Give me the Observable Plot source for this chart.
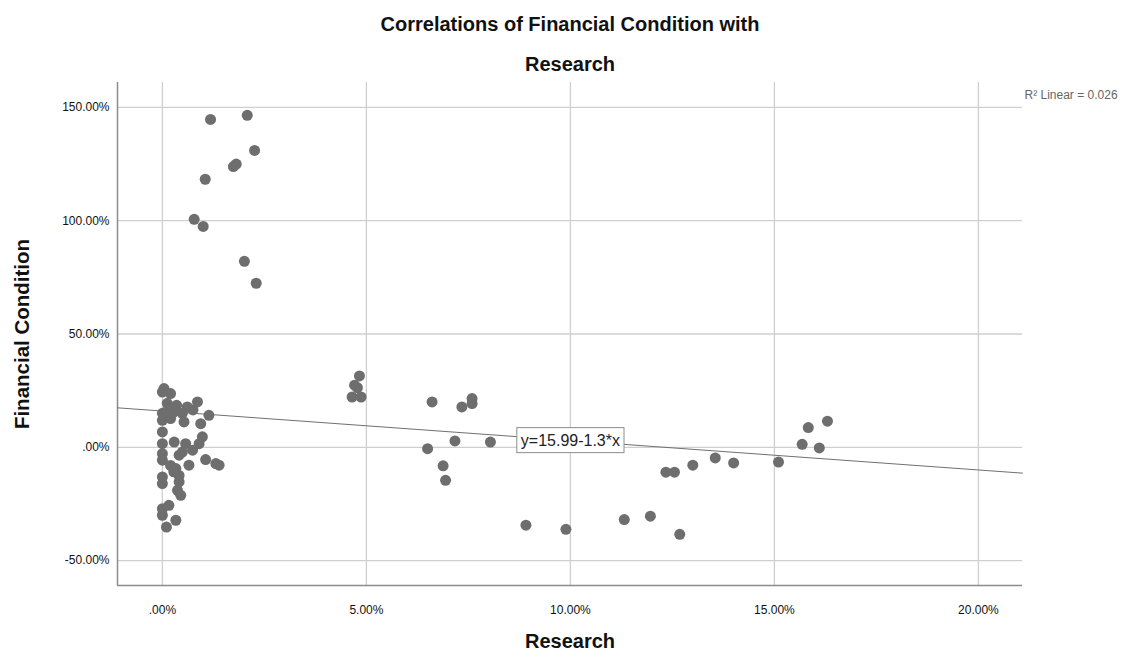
<!DOCTYPE html>
<html>
<head>
<meta charset="utf-8">
<script src="https://cdn.jsdelivr.net/npm/d3@7"></script>
<script src="https://cdn.jsdelivr.net/npm/@observablehq/plot@0.6"></script>
<style>
  body { margin: 0; background: #fff; }
  #chart svg { display: block; font-family: Arial, "Liberation Sans", sans-serif; color: #111; }
</style>
</head>
<body>
<div id="chart"></div>
<script>
// Research spending share (%) and financial condition (%) for each case
const research = [
  1.18, 2.08, 2.26, 1.74, 1.81, 1.05, 0.78, 1.00, 2.01, 2.30,
  4.83, 4.71, 4.78, 4.65, 4.87,
  6.61, 7.34, 7.59, 7.59, 6.50, 7.17, 8.04, 6.88, 6.94,
  8.91, 9.89, 11.32, 11.96, 12.68, 12.34, 12.55, 13.00, 13.55, 14.00,
  15.10, 15.68, 15.83, 16.10, 16.30,
  0.04, 0.20, 0.00, 0.12, 0.61, 0.86, 1.14, 0.49, 0.29, 0.00,
  0.00, 0.20, 0.53, 0.94, 0.00, 0.98, 0.00, 0.29, 0.57, 0.90,
  0.74, 0.49, 0.41, 0.00, 0.00, 0.65, 1.06, 1.39, 1.31, 0.33,
  0.00, 0.41, 0.00, 0.41, 0.37, 0.45, 0.16, 0.00, 0.00, 0.33,
  0.10, 0.35, 0.15, 0.75, 0.20, 0.28
];
const financial = [
  144.7, 146.5, 131.0, 123.9, 125.0, 118.3, 100.6, 97.5, 82.1, 72.4,
  31.5, 27.4, 26.3, 22.2, 22.2,
  20.0, 17.8, 21.5, 19.3, -0.6, 2.8, 2.3, -8.2, -14.6,
  -34.4, -36.2, -31.9, -30.4, -38.4, -11.0, -11.0, -7.9, -4.7, -6.9,
  -6.5, 1.3, 8.7, -0.3, 11.5,
  25.9, 23.7, 24.4, 19.4, 17.8, 20.0, 14.1, 15.0, 15.6, 15.0,
  11.9, 12.7, 11.2, 10.4, 6.8, 4.6, 1.6, 2.3, 1.6, 1.6,
  -1.3, -2.1, -3.5, -2.8, -5.7, -7.9, -5.4, -7.9, -7.2, -9.4,
  -13.1, -12.4, -16.0, -15.3, -19.0, -21.2, -25.6, -27.1, -30.0, -32.2,
  -35.2, 18.5, 16.8, 16.5, -8.0, -10.8
];

// Axis ticks
const xTicks = [0, 5, 10, 15, 20];
const yTicks = [-50, 0, 50, 100, 150];

// Fitted linear model
const intercept = 15.99;
const slope = -1.3;
const rSquared = 0.026;
const fitLabelAt = 10;

const xDomain = [-1.1, 21.08];
const yDomain = [-61, 161];

const points = research.map((x, i) => ({x, y: financial[i]}));
const fitLine = xDomain.map(x => ({x, y: intercept + slope * x}));
const fitText = `y=${intercept}${slope}*x`;
const fitLabel = [{x: fitLabelAt, y: intercept + slope * fitLabelAt, text: fitText}];

const pct = d => d === 0 ? ".00%" : d.toFixed(2) + "%";
const gridStyle = {stroke: "#cfcfcf", strokeOpacity: 1, strokeWidth: 1.3};

const chart = Plot.plot({
  width: 1143,
  height: 653,
  marginLeft: 117,
  marginRight: 121,
  marginTop: 82,
  marginBottom: 68,
  x: {domain: xDomain},
  y: {domain: yDomain},
  marks: [
    Plot.gridX(xTicks, gridStyle),
    Plot.gridY(yTicks, gridStyle),
    Plot.ruleX([xDomain[0]], {stroke: "#8c8c8c", strokeWidth: 1.5}),
    Plot.ruleY([yDomain[0]], {stroke: "#8c8c8c", strokeWidth: 1.5}),
    Plot.line(fitLine, {x: "x", y: "y", stroke: "#707070", strokeWidth: 1}),
    Plot.dot(points, {x: "x", y: "y", r: 5.5, fill: "#6e6e6e", stroke: "none"}),
    Plot.axisX(xTicks, {tickSize: 0, tickPadding: 20, tickFormat: pct, fontSize: 12, label: null}),
    Plot.axisY(yTicks, {tickSize: 0, tickPadding: 8, tickFormat: pct, fontSize: 12, label: null}),
    Plot.text(fitLabel, {x: "x", y: "y", text: "text", fontSize: 16, fill: "#222"}),
    Plot.text([`R² Linear = ${rSquared}`], {frameAnchor: "top-right", textAnchor: "start", lineAnchor: "middle", dx: 2, dy: 13, fontSize: 12, fill: "#666"}),
    Plot.text(["Correlations of Financial Condition with"], {frameAnchor: "top", textAnchor: "middle", lineAnchor: "middle", dy: -58, fontSize: 20, fontWeight: "bold", fill: "#111"}),
    Plot.text(["Research"], {frameAnchor: "top", textAnchor: "middle", lineAnchor: "middle", dy: -18, fontSize: 20, fontWeight: "bold", fill: "#111"}),
    Plot.text(["Financial Condition"], {frameAnchor: "left", textAnchor: "middle", lineAnchor: "middle", rotate: -90, dx: -95, fontSize: 20.5, fontWeight: "bold", fill: "#111"}),
    Plot.text(["Research"], {frameAnchor: "bottom", textAnchor: "middle", lineAnchor: "middle", dy: 56, fontSize: 20, fontWeight: "bold", fill: "#111"})
  ]
});

document.getElementById("chart").append(chart);

// Boxed background behind the equation label
Array.from(chart.querySelectorAll("text"))
  .filter(t => t.textContent === fitText)
  .forEach(t => {
    const b = t.getBBox();
    const padX = 4, padY = 4;
    const rect = document.createElementNS("http://www.w3.org/2000/svg", "rect");
    rect.setAttribute("x", b.x - padX);
    rect.setAttribute("y", b.y - padY);
    rect.setAttribute("width", b.width + 2 * padX);
    rect.setAttribute("height", b.height + 2 * padY);
    rect.setAttribute("fill", "#fff");
    rect.setAttribute("stroke", "#8c8c8c");
    rect.setAttribute("stroke-width", 1);
    if (t.getAttribute("transform")) rect.setAttribute("transform", t.getAttribute("transform"));
    t.parentNode.insertBefore(rect, t);
  });
</script>
</body>
</html>
